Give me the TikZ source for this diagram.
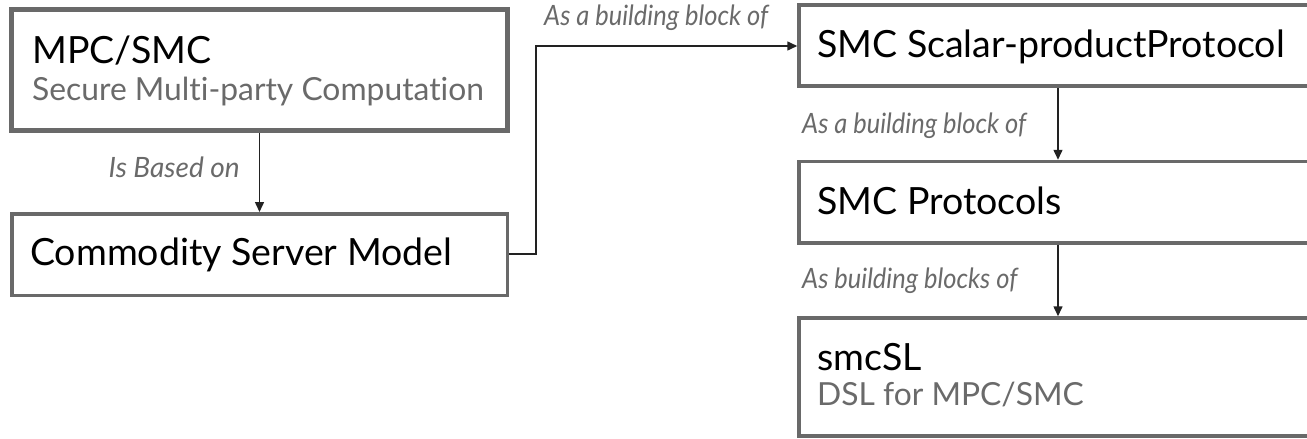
\documentclass[tikz,border=0pt]{standalone}
\usepackage{fontspec}
\setmainfont{Lato}[Ligatures=NoCommon]
\newfontfamily\narrowlato{Lato}[FakeStretch=0.91, Ligatures=NoCommon]
\usetikzlibrary{arrows.meta}
\definecolor{boxgray}{HTML}{696969}
\definecolor{subgray}{HTML}{6A6A6A}
\definecolor{linkblack}{HTML}{222222}
\tikzset{
  box/.style={draw=boxgray, line width=3.5pt, fill=white, rectangle, inner sep=0pt},
  thickbox/.style={box, line width=5pt},
  title/.style={anchor=base west, inner sep=0pt, font=\fontsize{37.5}{42}\selectfont, text=black},
  subtitle/.style={anchor=base west, inner sep=0pt, font=\fontsize{31.8}{36}\selectfont, text=subgray},
  linklabel/.style={inner sep=0pt, font=\fontsize{28}{32}\selectfont\itshape, text=subgray},
  narrowlabel/.style={linklabel, font=\narrowlato\fontsize{28}{32}\selectfont\itshape},
  link/.style={draw=linkblack, line width=1.5pt, -{Triangle[length=10pt,width=9pt]}}
}
\begin{document}
\begin{tikzpicture}[x=1pt, y=-1pt]
  \clip (0,0) rectangle (1307,439);
  \fill[white] (0,0) rectangle (1307,439);

  % left column
  \node[thickbox, minimum width=496pt, minimum height=121pt] (mpc) at (259.5,70) {};
  \node[box, minimum width=495.5pt, minimum height=81.5pt] (csm) at (259.5,254.5) {};
  \node[title] (mpcT) at (32,63) {MPC/SMC};
  \node[subtitle] (mpcS) at (32,100) {Secure Multi-party Computation};
  \node[title] (csmT) at (30,265) {Commodity Server Model};

  % right column (boxes run past the right edge)
  \node[box, minimum width=560pt, minimum height=81pt] (spp) at (1079,45.5) {};
  \node[box, minimum width=560pt, minimum height=81.5pt] (prot) at (1079,202.25) {};
  \node[box, minimum width=560pt, minimum height=118pt] (sl) at (1079,377) {};
  \node[title] (sppT) at (817,57) {SMC Scalar-productProtocol};
  \node[title] (protT) at (817,214) {SMC Protocols};
  \node[title] (slT) at (817,370) {smcSL};
  \node[subtitle] (slS) at (817,405) {DSL for MPC/SMC};

  % connectors
  \coordinate (k1) at (536,254);
  \coordinate (k2) at (536,46);
  \draw[link] (mpc.south) -- (csm.north);
  \draw[link] (csm.east |- k1) -- (k1) -- (k2) -- (spp.west |- k2);
  \draw[link] (1058,88) coordinate (a1) -- (prot.north -| a1);
  \draw[link] (prot.south -| a1) -- (sl.north -| a1);

  % connector labels
  \node[linklabel, anchor=base east] (lb1) at (240,177) {Is Based on};
  \node[narrowlabel, anchor=base west] (lb2) at (544,25) {As a building block of};
  \node[narrowlabel, anchor=base west] (lb3) at (802,133) {As a building block of};
  \node[narrowlabel, anchor=base west] (lb4) at (802,288) {As building blocks of};
\end{tikzpicture}
\end{document}
